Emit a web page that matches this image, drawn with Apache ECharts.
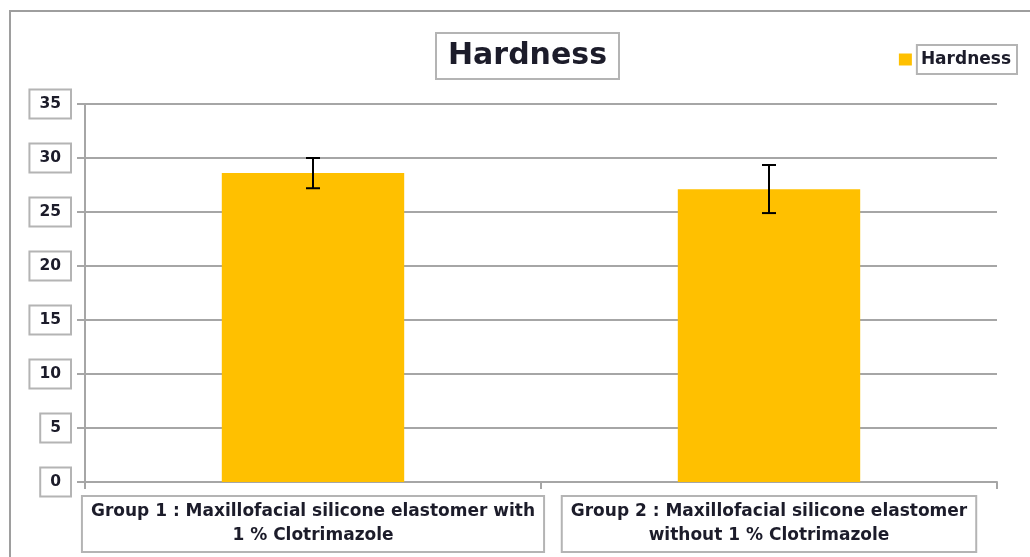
<!DOCTYPE html>
<html>
<head>
<meta charset="utf-8">
<script src="https://cdn.jsdelivr.net/npm/echarts@6/dist/echarts.min.js"></script>
<style>
  html, body { margin: 0; padding: 0; background: #fff; }
  #chart { width: 1030px; height: 557px; }
</style>
</head>
<body>
<div id="chart"></div>
<script>
// values
const categories = [
  'Group 1 : Maxillofacial silicone elastomer with\n1 % Clotrimazole',
  'Group 2 : Maxillofacial silicone elastomer\nwithout 1 % Clotrimazole'
];
const hardness = [28.6, 27.1];
const errLow = [27.2, 24.9];
const errHigh = [30.0, 29.35];
const yTicks = [0, 5, 10, 15, 20, 25, 30, 35];

const gray = '#a6a6a6';
const boxBorder = '#b4b4b4';
const ink = '#1c1c2a';
const font = 'DejaVu Sans';

const chart = echarts.init(document.getElementById('chart'));

chart.setOption({
  animation: false,
  backgroundColor: '#fff',
  graphic: [{
    type: 'rect',
    shape: { x: 10, y: 11, width: 1060, height: 600 },
    style: { fill: 'none', stroke: '#9e9e9e', lineWidth: 2 },
    silent: true
  }],
  title: {
    text: 'Hardness',
    left: 436,
    top: 33,
    padding: [6, 12, 6, 12],
    borderColor: boxBorder,
    borderWidth: 2,
    textStyle: { fontFamily: font, fontWeight: 'bold', fontSize: 30, lineHeight: 34, color: ink }
  },
  legend: {
    right: 12,
    top: 44,
    padding: 0,
    icon: 'rect',
    itemWidth: 13,
    itemHeight: 12,
    data: ['Hardness'],
    textStyle: {
      fontFamily: font, fontWeight: 'bold', fontSize: 17, lineHeight: 21, color: ink,
      borderColor: boxBorder, borderWidth: 2, padding: [4, 6, 4, 4]
    }
  },
  grid: { left: 85, right: 33, top: 104, bottom: 75 },
  xAxis: {
    type: 'category',
    data: categories,
    axisLine: { lineStyle: { color: gray, width: 2 } },
    axisTick: { show: true, length: 7, lineStyle: { color: gray, width: 2 } },
    axisLabel: {
      interval: 0,
      margin: 14,
      fontFamily: font,
      fontWeight: 'bold',
      fontSize: 17,
      lineHeight: 24,
      color: ink,
      align: 'center',
      borderColor: boxBorder,
      borderWidth: 2,
      padding: [4, 9, 4, 9]
    }
  },
  yAxis: {
    type: 'value',
    min: yTicks[0],
    max: yTicks[yTicks.length - 1],
    interval: 5,
    axisLine: { show: true, lineStyle: { color: gray, width: 2 } },
    axisTick: { show: true, length: 8, lineStyle: { color: gray, width: 2 } },
    splitLine: { lineStyle: { color: gray, width: 2 } },
    axisLabel: {
      margin: 14,
      fontFamily: font,
      fontWeight: 'bold',
      fontSize: 15.5,
      lineHeight: 19,
      color: ink,
      borderColor: boxBorder,
      borderWidth: 2,
      padding: [5, 10, 5, 10]
    }
  },
  series: [
    {
      name: 'Hardness',
      type: 'bar',
      data: hardness,
      barWidth: '40%',
      itemStyle: { color: '#FFC000' }
    },
    {
      name: 'err',
      type: 'custom',
      data: hardness.map((v, i) => [i, errLow[i], errHigh[i]]),
      z: 10,
      renderItem: function (params, api) {
        const lo = api.coord([api.value(0), api.value(1)]);
        const hi = api.coord([api.value(0), api.value(2)]);
        const w = 7;
        const st = { stroke: '#000', lineWidth: 2 };
        return {
          type: 'group',
          children: [
            { type: 'line', shape: { x1: hi[0], y1: hi[1], x2: lo[0], y2: lo[1] }, style: st },
            { type: 'line', shape: { x1: hi[0] - w, y1: hi[1], x2: hi[0] + w, y2: hi[1] }, style: st },
            { type: 'line', shape: { x1: lo[0] - w, y1: lo[1], x2: lo[0] + w, y2: lo[1] }, style: st }
          ]
        };
      }
    }
  ]
});
</script>
</body>
</html>
